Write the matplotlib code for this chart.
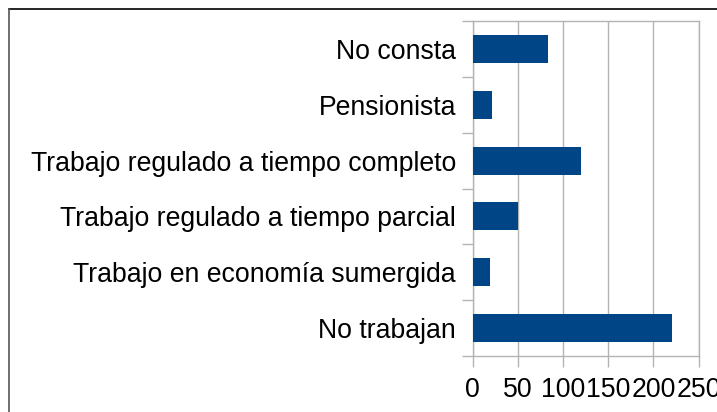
import matplotlib
matplotlib.use("Agg")
import matplotlib.pyplot as plt
from matplotlib.lines import Line2D
import numpy as np

categories = ["No consta", "Pensionista", "Trabajo regulado a tiempo completo",
              "Trabajo regulado a tiempo parcial", "Trabajo en economía sumergida",
              "No trabajan"]
values = [83, 22, 120, 50, 19, 220]
xticks = [0, 50, 100, 150, 200, 250]

W, H = 717, 412
fig = plt.figure(figsize=(W / 100, H / 100), dpi=100)
plt.rcParams['font.family'] = ['Liberation Sans', 'DejaVu Sans']

left, right, top, bottom = 472.5, 698.7, 21, 356
ax = fig.add_axes([left / W, 1 - bottom / H, (right - left) / W, (bottom - top) / H])

y = np.arange(len(categories))
ax.barh(y, values, height=0.5, color="#004586", zorder=3)
ax.set_ylim(len(categories) - 0.5, -0.5)
ax.set_xlim(0, 250)
ax.set_xticks(xticks)
ax.set_xticklabels([str(t) for t in xticks], fontsize=19.2)
ax.set_yticks(y)
ax.set_yticklabels(categories, fontsize=19.2)
ax.set_yticks(np.arange(len(categories) + 1) - 0.5, minor=True)
ax.tick_params(axis='y', which='major', length=0, pad=11.8)
ax.tick_params(axis='y', which='minor', length=8, color="#b3b3b3", width=1)
ax.tick_params(axis='x', which='major', length=8, color="#b3b3b3", width=1, pad=7)
ax.grid(axis='x', color="#b3b3b3", linewidth=1, zorder=0)
for s in ax.spines.values():
    s.set_color("#b3b3b3")
    s.set_linewidth(1)

# outer frame
fig.add_artist(Line2D([8.5 / W, 1], [1 - 9 / H, 1 - 9 / H], color="black", linewidth=1.2, transform=fig.transFigure))
fig.add_artist(Line2D([8.5 / W, 8.5 / W], [0, 1 - 9 / H], color="#555555", linewidth=1.2, transform=fig.transFigure))

fig.savefig("out.png", dpi=100)
